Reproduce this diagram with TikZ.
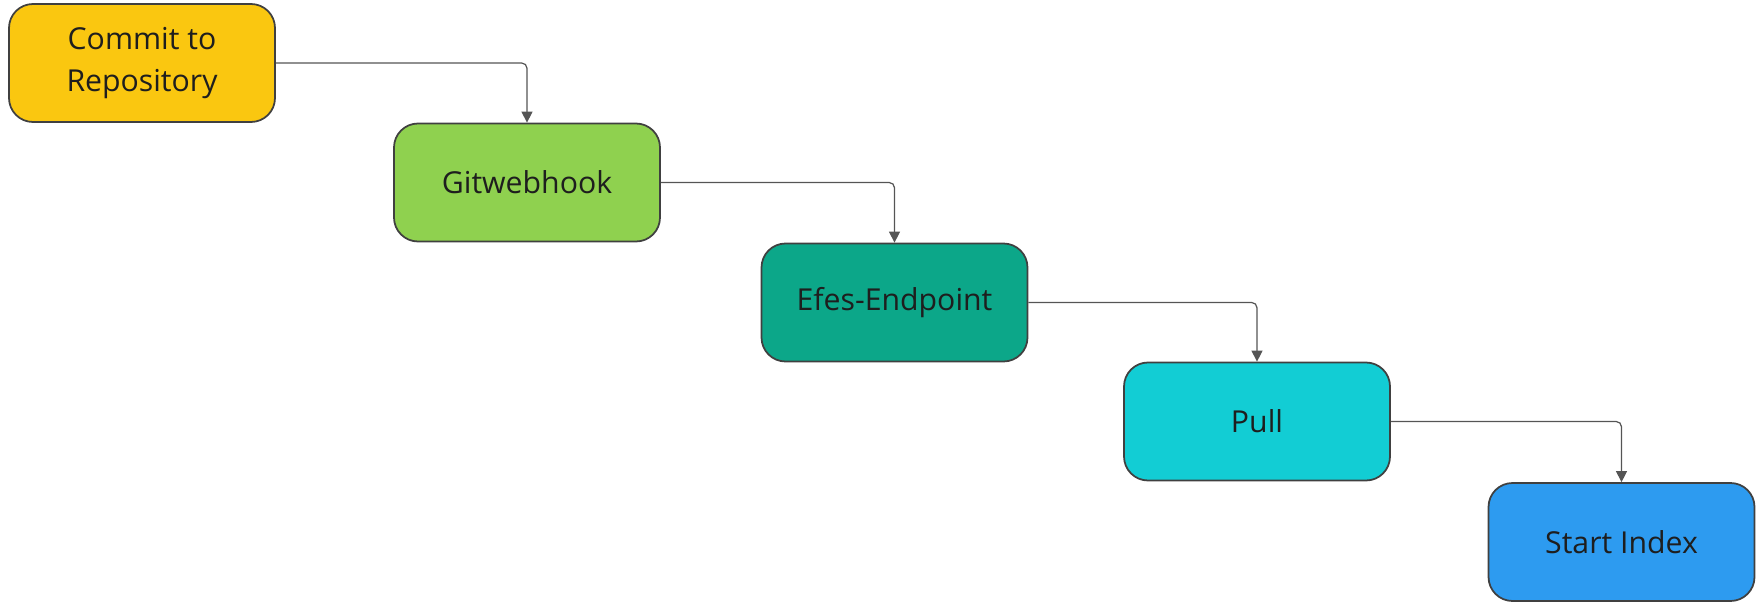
\documentclass[tikz,border=0pt]{standalone}
\usepackage{fontspec}
\setmainfont{Open Sans}
\usepackage{xcolor}
\usepackage{tikz}
\usetikzlibrary{positioning,arrows.meta}
\definecolor{cyellow}{RGB}{250,199,16}
\definecolor{cgreen}{RGB}{143,209,79}
\definecolor{cteal}{RGB}{12,167,137}
\definecolor{ccyan}{RGB}{18,205,212}
\definecolor{cblue}{RGB}{45,155,240}
\definecolor{cline}{RGB}{85,85,85}
\definecolor{ctext}{RGB}{30,30,30}

\begin{document}
\begin{tikzpicture}[font=\fontsize{17.2}{24}\selectfont,
  stage/.style={draw=ctext!85,line width=1pt,rounded corners=0.48cm,text=ctext,align=center,minimum width=5.32cm,minimum height=2.36cm},
  flow/.style={-{Triangle[length=2.2mm,width=2.2mm]},cline,line width=0.7pt,rounded corners=3pt},
]
\useasboundingbox (0,0) rectangle (35.22,-12.04);
\node[stage,fill=cyellow] (commit) at (2.84,-1.26) {Commit to\\Repository};
\node[stage,fill=cgreen] (hook) at (10.54,-3.65) {Gitwebhook};
\node[stage,fill=cteal] (endpoint) at (17.89,-6.05) {Efes-Endpoint};
\node[stage,fill=ccyan] (pull) at (25.14,-8.43) {Pull};
\node[stage,fill=cblue] (index) at (32.43,-10.84) {Start Index};
\draw[flow] (commit.east) -| (hook.north);
\draw[flow] (hook.east) -| (endpoint.north);
\draw[flow] (endpoint.east) -| (pull.north);
\draw[flow] (pull.east) -| (index.north);
\end{tikzpicture}
\end{document}
